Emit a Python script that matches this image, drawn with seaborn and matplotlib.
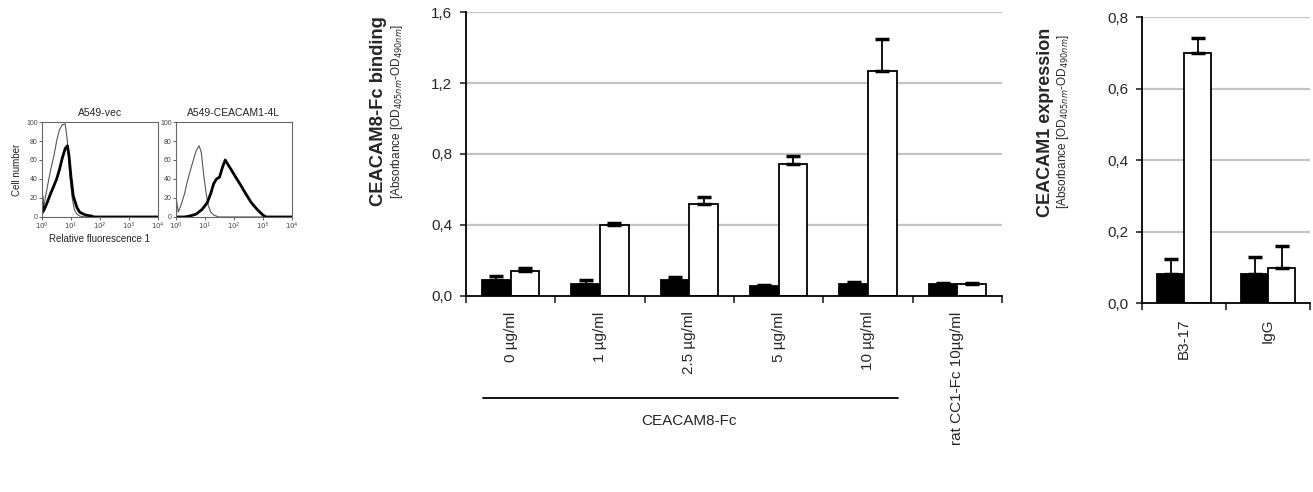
import numpy as np
import pandas as pd
import matplotlib
matplotlib.use('Agg')
import matplotlib.pyplot as plt
import matplotlib.transforms as mtransforms
from matplotlib.ticker import FuncFormatter, FixedLocator
import seaborn as sns

sns.set_theme(style='white')
plt.rcParams['font.family'] = ['Liberation Sans', 'DejaVu Sans']

# ---- flow cytometry histograms (fluorescence, cell number) ----
vec_iso_x = [1.0, 1.1, 1.3, 1.6, 2.0, 2.6, 3.2, 4.0, 5.0, 6.3, 7.5, 9.0, 11, 13, 16, 20, 30, 50, 100, 10000]
vec_iso_y = [15, 8, 20, 35, 50, 65, 80, 92, 97, 98, 80, 45, 20, 8, 3, 1, 0, 0, 0, 0]
vec_pos_x = [1.0, 1.05, 1.2, 1.5, 2.0, 2.5, 3.2, 4.0, 5.0, 6.3, 7.5, 8.5, 10, 12, 16, 20, 32, 50, 63, 100, 10000]
vec_pos_y = [22, 5, 8, 15, 25, 32, 40, 50, 62, 72, 75, 65, 42, 22, 10, 5, 2, 1, 0, 0, 0]
cc1_iso_x = [1.0, 1.2, 1.6, 2.0, 2.5, 3.2, 4.0, 5.0, 6.3, 7.5, 9.0, 11, 13, 16, 20, 30, 50, 10000]
cc1_iso_y = [22, 5, 15, 25, 38, 50, 60, 70, 75, 68, 45, 25, 12, 5, 2, 0, 0, 0]
cc1_pos_x = [1.0, 2.0, 3.0, 5.0, 8.0, 12, 16, 20, 25, 32, 40, 50, 63, 80, 100, 160, 250, 400, 630, 1000, 1300, 10000]
cc1_pos_y = [0, 0, 1, 3, 8, 15, 25, 35, 40, 42, 52, 60, 55, 50, 45, 35, 25, 15, 8, 2, 0, 0]

# ---- CEACAM8-Fc binding ----
bind_groups = ['0 µg/ml', '1 µg/ml', '2.5 µg/ml', '5 µg/ml', '10 µg/ml', 'rat CC1-Fc 10µg/ml']
bind_black = [0.088, 0.066, 0.088, 0.056, 0.066, 0.065]
bind_black_err = [0.022, 0.022, 0.019, 0.008, 0.011, 0.006]
bind_white = [0.14, 0.398, 0.52, 0.746, 1.266, 0.065]
bind_white_err = [0.015, 0.012, 0.038, 0.044, 0.184, 0.007]

# ---- CEACAM1 expression ----
expr_groups = ['B3-17', 'IgG']
expr_black = [0.082, 0.082]
expr_black_err = [0.041, 0.046]
expr_white = [0.70, 0.098]
expr_white_err = [0.04, 0.061]

fig = plt.figure(figsize=(13.13, 4.92), dpi=100)
comma = FuncFormatter(lambda v, p: f'{v:.1f}'.replace('.', ','))


def flow_panel(rect, title, iso, pos, ylab=False):
    ax = fig.add_axes(rect)
    ax.plot(iso[0], iso[1], color='#555555', lw=0.8)
    ax.plot(pos[0], pos[1], color='black', lw=2.0)
    ax.set_xscale('log')
    ax.set_xlim(1, 10000)
    ax.set_ylim(0, 100)
    ax.set_yticks([0, 20, 40, 60, 80, 100])
    ax.set_xticks([1, 10, 100, 1000, 10000])
    ax.set_xticklabels(['$10^0$', '$10^1$', '$10^2$', '$10^3$', '$10^4$'])
    ax.minorticks_off()
    ax.tick_params(labelsize=5, length=2, width=0.6, pad=1, colors='#444444',
                   left=True, bottom=True)
    for s in ax.spines.values():
        s.set_color('#666666')
        s.set_linewidth(0.8)
    ax.set_title(title, fontsize=7.5, pad=4, color='#222222')
    if ylab:
        ax.set_ylabel('Cell number', fontsize=7, labelpad=3, color='#222222')
    return ax


ax1 = flow_panel([0.032, 0.559, 0.0883, 0.193], 'A549-vec',
                 (vec_iso_x, vec_iso_y), (vec_pos_x, vec_pos_y), ylab=True)
flow_panel([0.134, 0.559, 0.0883, 0.193], 'A549-CEACAM1-4L',
           (cc1_iso_x, cc1_iso_y), (cc1_pos_x, cc1_pos_y))
ax1.set_xlabel('Relative fluorescence 1', fontsize=7, labelpad=1, color='#222222')


def bar_panel(rect, groups, black, black_err, white, white_err, ymax, step):
    ax = fig.add_axes(rect)
    df = pd.DataFrame({
        'group': groups * 2,
        'series': ['cells'] * len(groups) + ['treated'] * len(groups),
        'value': black + white,
    })
    for g in np.arange(step, ymax + 1e-9, step):
        ax.axhline(g, color='#c4c4c4', lw=1.6, zorder=0)
    sns.barplot(data=df, x='group', y='value', hue='series', order=groups,
                palette=['black', 'white'], edgecolor='black', linewidth=1.3,
                width=0.64, gap=0, legend=False, ax=ax, zorder=2)
    errs = black_err + white_err
    vals = black + white
    for patch, v, e in zip(ax.patches[:len(vals)], vals, errs):
        xc = patch.get_x() + patch.get_width() / 2
        ax.errorbar(xc, v, yerr=[[0], [e]], fmt='none', ecolor='black',
                    elinewidth=1.3, capsize=5, capthick=2.5, zorder=3)
    ax.set_xlim(-0.5, len(groups) - 0.5)
    ax.set_ylim(0, ymax)
    ax.set_yticks(np.arange(0, ymax + 1e-9, step))
    ax.yaxis.set_major_formatter(comma)
    ax.set_xticks(range(len(groups)))
    ax.set_xticklabels(groups, rotation=90, va='top', fontsize=11)
    ax.xaxis.set_minor_locator(FixedLocator(np.arange(-0.5, len(groups), 1.0)))
    ax.tick_params(axis='x', which='major', length=0, pad=11)
    ax.tick_params(axis='x', which='minor', length=5, width=1.2, bottom=True, direction='out')
    ax.tick_params(axis='y', length=4, width=1.2, left=True, labelsize=11, pad=6)
    ax.set_xlabel('')
    ax.set_ylabel('')
    for side in ['top', 'right']:
        ax.spines[side].set_visible(False)
    for side in ['left', 'bottom']:
        ax.spines[side].set_color('black')
        ax.spines[side].set_linewidth(1.3)
    return ax


ax2 = bar_panel([0.3549, 0.3984, 0.4082, 0.5772], bind_groups,
                bind_black, bind_black_err, bind_white, bind_white_err, 1.6, 0.4)
ax2.text(-0.164, 0.65, 'CEACAM8-Fc binding', rotation=90, transform=ax2.transAxes,
         ha='center', va='center', fontsize=13.2, fontweight='bold')
ax2.text(-0.128, 0.65, '[Absorbance [OD$_{405 nm}$-OD$_{490 nm}$]', rotation=90,
         transform=ax2.transAxes, ha='center', va='center', fontsize=8.5)
trans = mtransforms.blended_transform_factory(ax2.transData, ax2.transAxes)
ax2.plot([-0.31, 4.34], [-0.359, -0.359], color='black', lw=1.3,
         transform=trans, clip_on=False)
ax2.text(2.0, -0.44, 'CEACAM8-Fc', transform=trans, ha='center', va='center', fontsize=11)

ax3 = bar_panel([0.8698, 0.3841, 0.128, 0.5813], expr_groups,
                expr_black, expr_black_err, expr_white, expr_white_err, 0.8, 0.2)
ax3.text(-0.577, 0.633, 'CEACAM1 expression', rotation=90, transform=ax3.transAxes,
         ha='center', va='center', fontsize=13, fontweight='bold')
ax3.text(-0.47, 0.633, '[Absorbance [OD$_{405 nm}$-OD$_{490 nm}$]', rotation=90,
         transform=ax3.transAxes, ha='center', va='center', fontsize=8.5)

fig.savefig('out.png', dpi=100)
